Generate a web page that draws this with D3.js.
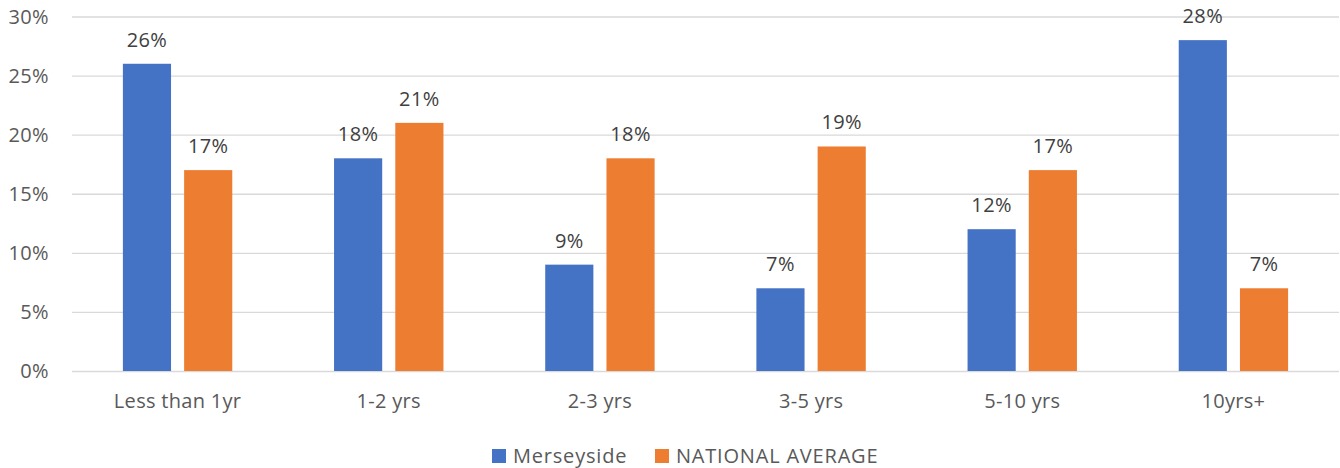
<!DOCTYPE html>
<html>
<head>
<meta charset="utf-8">
<script src="https://cdn.jsdelivr.net/npm/d3@7"></script>
<style>
  html, body { margin: 0; padding: 0; background: #fff; }
  svg { display: block; }
  text { font-family: "Open Sans", "Liberation Sans", sans-serif; }
</style>
</head>
<body>
<svg id="chart" width="1340" height="468"></svg>
<script>
// Length of residence, share of respondents per band
const categories = ["Less than 1yr", "1-2 yrs", "2-3 yrs", "3-5 yrs", "5-10 yrs", "10yrs+"];
const seriesNames = ["Merseyside", "NATIONAL AVERAGE"];
const merseyside = [26, 18, 9, 7, 12, 28];
const nationalAverage = [17, 21, 18, 19, 17, 7];
const yTicks = [0, 5, 10, 15, 20, 25, 30];
const colors = ["#4472C4", "#ED7D31"];

const svg = d3.select("#chart");
const W = 1340, H = 468;
const margin = { left: 72, right: 1, top: 16.5, bottom: 97 };

const x = d3.scaleBand()
  .domain(categories)
  .range([margin.left, W - margin.right])
  .paddingInner(0)
  .paddingOuter(0);

const y = d3.scaleLinear()
  .domain([0, 30])
  .range([H - margin.bottom, margin.top]);

const bw = x.bandwidth();
const barW = bw * 0.228;
const gap = bw * 0.062;

// Inner x offsets for the two series within a category
const sub = d3.scaleOrdinal()
  .domain(seriesNames)
  .range([bw / 2 - gap / 2 - barW, bw / 2 + gap / 2]);

// Gridlines
const yAxis = d3.axisLeft(y)
  .tickValues(yTicks)
  .tickSize(-(W - margin.left - margin.right))
  .tickFormat(d => d + "%");

const gy = svg.append("g")
  .attr("transform", `translate(${margin.left},0)`)
  .call(yAxis);
gy.select(".domain").remove();
gy.selectAll(".tick line").attr("stroke", "#d9d9d9").attr("stroke-width", 1.3);
gy.selectAll(".tick text")
  .attr("fill", "#595959")
  .style("font-size", "20px")
  .style("letter-spacing", "0.4px")
  .attr("x", -23)
  .attr("text-anchor", "end")
  .attr("dy", "0.34em");

// Category labels
const xAxis = d3.axisBottom(x).tickSize(0).tickPadding(23);
const gx = svg.append("g")
  .attr("transform", `translate(0,${y(0)})`)
  .call(xAxis);
gx.select(".domain").remove();
gx.selectAll(".tick text")
  .attr("fill", "#595959")
  .style("font-size", "20px")
  .style("letter-spacing", "0.3px");

// Bars
const rows = categories.map((c, i) => ({
  category: c,
  values: [
    { series: seriesNames[0], value: merseyside[i] },
    { series: seriesNames[1], value: nationalAverage[i] }
  ]
}));

const groups = svg.append("g").selectAll("g")
  .data(rows)
  .join("g")
  .attr("transform", d => `translate(${x(d.category)},0)`);

groups.selectAll("rect")
  .data(d => d.values)
  .join("rect")
  .attr("x", d => sub(d.series))
  .attr("y", d => y(d.value))
  .attr("width", barW)
  .attr("height", d => y(0) - y(d.value))
  .attr("fill", (d, i) => colors[i]);

groups.selectAll("text.val")
  .data(d => d.values)
  .join("text")
  .attr("class", "val")
  .attr("x", d => sub(d.series) + barW / 2)
  .attr("y", d => y(d.value) - 17)
  .attr("text-anchor", "middle")
  .attr("fill", "#404040")
  .style("font-size", "20px")
  .style("letter-spacing", "0.4px")
  .text(d => d.value + "%");

// Legend
const legend = svg.append("g");
const legendItems = [
  { name: seriesNames[0], x: 492, color: colors[0] },
  { name: seriesNames[1], x: 655, color: colors[1] }
];
legendItems.forEach(it => {
  legend.append("rect")
    .attr("x", it.x).attr("y", 449)
    .attr("width", 14).attr("height", 14)
    .attr("fill", it.color);
  legend.append("text")
    .attr("x", it.x + 21).attr("y", 463)
    .attr("fill", "#595959")
    .style("font-size", "20px")
    .style("letter-spacing", "0.8px")
    .text(it.name);
});
</script>
</body>
</html>
